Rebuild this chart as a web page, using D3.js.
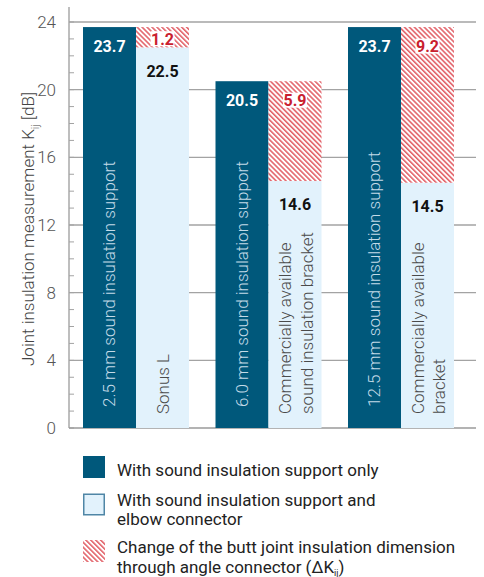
<!DOCTYPE html>
<html>
<head>
<meta charset="utf-8">
<script src="https://cdn.jsdelivr.net/npm/d3@7"></script>
<style>
  body { margin: 0; background: #fff; }
  svg { display: block; font-family: Roboto, "Noto Sans", sans-serif; }
</style>
</head>
<body>
<div id="chart"></div>
<script>
// values
const groups = ["2.5 mm", "6.0 mm", "12.5 mm"];
const supportLabels = [
  "2.5 mm sound insulation support",
  "6.0 mm sound insulation support",
  "12.5 mm sound insulation support"
];
const connectorLabels = [
  ["Sonus L"],
  ["Commercially available", "sound insulation bracket"],
  ["Commercially available", "bracket"]
];
const supportOnly = [23.7, 20.5, 23.7];
const withConnector = [22.5, 14.6, 14.5];
const delta = [1.2, 5.9, 9.2];
const yTicks = [0, 4, 8, 12, 16, 20, 24];
const yMinor = d3.range(0, 25, 1);
const legendItems = [
  { key: "dark", lines: ["With sound insulation support only"] },
  { key: "light", lines: ["With sound insulation support and", "elbow connector"] },
  { key: "hatch", lines: ["Change of the butt joint insulation dimension", "through angle connector (ΔK"] }
];

const width = 484, height = 577;
const dark = "#00587b", light = "#e2f2fc", red = "#c9202e", hatchRed = "#dc3f48";

const svg = d3.select("#chart").append("svg")
  .attr("width", width).attr("height", height);

const defs = svg.append("defs");
defs.append("pattern")
  .attr("id", "hatch")
  .attr("patternUnits", "userSpaceOnUse")
  .attr("width", 3.5).attr("height", 3.5)
  .attr("patternTransform", "rotate(-45)")
  .call(p => {
    p.append("rect").attr("width", 3.5).attr("height", 3.5).attr("fill", "#fff");
    p.append("line").attr("x1", 0.8).attr("x2", 0.8).attr("y1", 0).attr("y2", 3.5)
      .attr("stroke", hatchRed).attr("stroke-width", 1.3);
  });

const y = d3.scaleLinear().domain([0, 24]).range([428, 22]);
const x = d3.scaleBand().domain(groups).range([69.75, 467.25])
  .paddingInner(0.2).paddingOuter(0.1);
const bw = x.bandwidth() / 2;
const axisX = 69, plotRight = 476;

// gridlines
svg.append("g").selectAll("line").data(yTicks.filter(d => d > 0)).join("line")
  .attr("x1", axisX).attr("x2", plotRight)
  .attr("y1", d => y(d)).attr("y2", d => y(d))
  .attr("stroke", "#a3a3a3").attr("stroke-width", 1.4);

// minor ticks
svg.append("g").selectAll("line").data(yMinor).join("line")
  .attr("x1", axisX).attr("x2", axisX + 5)
  .attr("y1", d => y(d)).attr("y2", d => y(d))
  .attr("stroke", "#a3a3a3").attr("stroke-width", 1);

// tick labels
svg.append("g").selectAll("text").data(yTicks).join("text")
  .attr("x", 56).attr("y", d => y(d)).attr("dy", "0.36em")
  .attr("text-anchor", "end")
  .attr("font-size", 17).attr("font-weight", 300).attr("fill", "#555")
  .text(d => d);

// axis lines
svg.append("line").attr("x1", axisX).attr("x2", axisX).attr("y1", 7).attr("y2", y(0))
  .attr("stroke", "#a3a3a3").attr("stroke-width", 1.4);
svg.append("line").attr("x1", axisX).attr("x2", plotRight).attr("y1", y(0)).attr("y2", y(0))
  .attr("stroke", "#9a9a9a").attr("stroke-width", 1.6);

// y axis title
const yTitle = svg.append("text")
  .attr("transform", `translate(28,${229}) rotate(-90)`)
  .attr("text-anchor", "middle").attr("dy", "0.35em")
  .attr("font-size", 17).attr("font-weight", 300).attr("fill", "#444");
yTitle.append("tspan").text("Joint insulation measurement K");
yTitle.append("tspan").attr("font-size", 11).attr("dy", 5).text("ij");
yTitle.append("tspan").attr("dy", -5).text(" [dB]");

// bars
const g = svg.append("g").selectAll("g").data(groups).join("g");

g.append("rect")
  .attr("x", d => x(d)).attr("width", bw)
  .attr("y", (d, i) => y(supportOnly[i]))
  .attr("height", (d, i) => y(0) - y(supportOnly[i]))
  .attr("fill", dark);

g.append("rect")
  .attr("x", d => x(d) + bw).attr("width", bw)
  .attr("y", (d, i) => y(withConnector[i]))
  .attr("height", (d, i) => y(0) - y(withConnector[i]))
  .attr("fill", light);

g.append("rect")
  .attr("x", d => x(d) + bw).attr("width", bw)
  .attr("y", (d, i) => y(withConnector[i] + delta[i]))
  .attr("height", (d, i) => y(withConnector[i]) - y(withConnector[i] + delta[i]))
  .attr("fill", "url(#hatch)");

// value labels
g.append("text")
  .attr("x", d => x(d) + bw / 2)
  .attr("y", (d, i) => y(supportOnly[i]) + 19.5).attr("dy", "0.36em")
  .attr("text-anchor", "middle").attr("font-size", 16).attr("font-weight", 700)
  .attr("fill", "#fff").text((d, i) => supportOnly[i]);

g.append("text")
  .attr("x", d => x(d) + bw * 1.5)
  .attr("y", (d, i) => y(withConnector[i]) + 23.5).attr("dy", "0.36em")
  .attr("text-anchor", "middle").attr("font-size", 16).attr("font-weight", 700)
  .attr("fill", "#111").text((d, i) => withConnector[i]);

const hatchLabelY = (d, i) => {
  const top = y(withConnector[i] + delta[i]), bottom = y(withConnector[i]);
  return Math.min(top + 19.5, (top + bottom) / 2 + 2);
};
g.append("rect")
  .attr("x", d => x(d) + bw * 1.5 - 12).attr("width", 24)
  .attr("y", (d, i) => hatchLabelY(d, i) - 8).attr("height", 15)
  .attr("fill", "#fff");
g.append("text")
  .attr("x", d => x(d) + bw * 1.5)
  .attr("y", hatchLabelY).attr("dy", "0.36em")
  .attr("text-anchor", "middle").attr("font-size", 16).attr("font-weight", 700)
  .attr("fill", red).text((d, i) => delta[i]);

// category labels (rotated)
g.append("text")
  .attr("transform", d => `translate(${x(d) + bw / 2},${y(0) - 21}) rotate(-90)`)
  .attr("dy", "0.35em").attr("font-size", 17).attr("font-weight", 300)
  .attr("fill", "#c4dbe8").text((d, i) => supportLabels[i]);

g.each(function (d, i) {
  const lines = connectorLabels[i];
  const t = d3.select(this).append("text")
    .attr("transform", `translate(${x(d) + bw * 1.5},${y(0) - 14}) rotate(-90)`)
    .attr("font-size", 17).attr("font-weight", 300).attr("fill", "#4a4a4a");
  const off = -(lines.length - 1) * 21.5 / 2;
  lines.forEach((l, j) => {
    t.append("tspan").attr("x", 0).attr("y", off + j * 21.5 + 1).attr("dy", "0.35em").text(l);
  });
});

// legend
const swatchY = [456, 493.5, 540];
const textY = [469.5, 499.5, 547];
const lg = svg.append("g").selectAll("g").data(legendItems).join("g");

lg.append("rect")
  .attr("x", d => d.key === "light" ? 83.75 : 83)
  .attr("y", (d, i) => d.key === "light" ? swatchY[i] + 0.75 : swatchY[i])
  .attr("width", d => d.key === "light" ? 20.5 : 22)
  .attr("height", d => d.key === "light" ? 20.5 : 22)
  .attr("fill", d => d.key === "dark" ? dark : d.key === "light" ? light : "url(#hatch)")
  .attr("stroke", d => d.key === "light" ? "#4f86a6" : "none")
  .attr("stroke-width", 1.5);

lg.each(function (d, i) {
  const t = d3.select(this).append("text")
    .attr("font-size", 17).attr("fill", "#222");
  d.lines.forEach((l, j) => {
    t.append("tspan").attr("x", 117).attr("y", textY[i] + j * 19.5).attr("dy", "0.36em").text(l);
    if (d.key === "hatch" && j === 1) {
      t.append("tspan").attr("font-size", 9).attr("dy", 3).text("ij");
      t.append("tspan").attr("dy", -3).text(")");
    }
  });
});
</script>
</body>
</html>
